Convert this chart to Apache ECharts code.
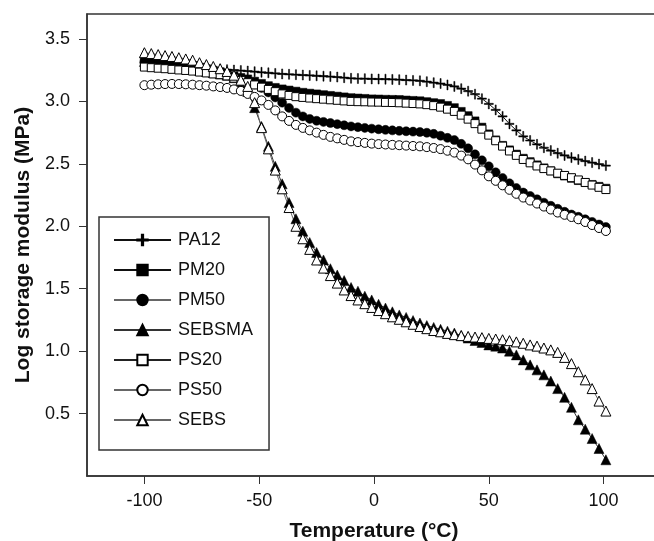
<!DOCTYPE html>
<html>
<head>
<meta charset="utf-8">
<script src="https://cdn.jsdelivr.net/npm/echarts@6/dist/echarts.min.js"></script>
<style>
  html, body { margin: 0; padding: 0; background: #fff; }
  #chart { width: 654px; height: 541px; }
</style>
</head>
<body>
<div id="chart"></div>
<script>
// temperature points (°C), one every 3 degrees
var temps = [-100, -97, -94, -91, -88, -85, -82, -79, -76, -73, -70, -67, -64, -61,
    -58, -55, -52, -49, -46, -43, -40, -37, -34, -31, -28, -25, -22, -19, -16, -13, -10, -7, -4, -1,
    2, 5, 8, 11, 14, 17, 20, 23, 26, 29, 32, 35, 38, 41, 44, 47, 50, 53, 56, 59, 62, 65, 68, 71, 74, 77, 80, 83, 86, 89, 92, 95, 98, 101];

var pa12 = [3.31, 3.30, 3.30, 3.29, 3.29, 3.285, 3.28, 3.28, 3.27, 3.265, 3.26, 3.257, 3.254, 3.251,
    3.247, 3.243, 3.238, 3.233, 3.229, 3.224, 3.22, 3.217, 3.214, 3.211, 3.208, 3.205, 3.202, 3.199, 3.195, 3.19, 3.185, 3.183, 3.182, 3.18,
    3.179, 3.178, 3.176, 3.174, 3.171, 3.168, 3.165, 3.158, 3.15, 3.143, 3.132, 3.12, 3.102, 3.082, 3.058, 3.022, 2.98, 2.932, 2.88, 2.82,
    2.768, 2.72, 2.687, 2.656, 2.629, 2.606, 2.585, 2.567, 2.55, 2.535, 2.522, 2.51, 2.498, 2.486];

var pm20 = [3.33, 3.324, 3.318, 3.312, 3.306, 3.30, 3.294, 3.286, 3.274, 3.262, 3.25, 3.238, 3.224, 3.206,
    3.192, 3.18, 3.162, 3.144, 3.126, 3.112, 3.10, 3.091, 3.082, 3.073, 3.066, 3.06, 3.054, 3.048, 3.042, 3.036, 3.03, 3.027, 3.024, 3.02,
    3.019, 3.017, 3.016, 3.015, 3.011, 3.008, 3.005, 2.998, 2.99, 2.983, 2.968, 2.95, 2.92, 2.886, 2.844, 2.794, 2.74, 2.692, 2.648, 2.612,
    2.578, 2.545, 2.518, 2.492, 2.468, 2.444, 2.42, 2.402, 2.384, 2.366, 2.35, 2.335, 2.32, 2.305];

var pm50 = [3.32, 3.314, 3.308, 3.302, 3.294, 3.285, 3.276, 3.267, 3.258, 3.249, 3.24, 3.228, 3.214, 3.196,
    3.178, 3.16, 3.136, 3.108, 3.072, 3.032, 2.99, 2.948, 2.91, 2.88, 2.86, 2.845, 2.836, 2.827, 2.818, 2.809, 2.80, 2.794, 2.788, 2.782,
    2.777, 2.772, 2.768, 2.764, 2.761, 2.758, 2.755, 2.749, 2.74, 2.725, 2.708, 2.69, 2.66, 2.624, 2.576, 2.528, 2.48, 2.432, 2.386, 2.344,
    2.306, 2.27, 2.243, 2.216, 2.189, 2.164, 2.14, 2.116, 2.094, 2.076, 2.056, 2.035, 2.014, 1.994];

var sebsma = [3.32, 3.315, 3.31, 3.30, 3.29, 3.28, 3.27, 3.26, 3.25, 3.24, 3.23, 3.22, 3.21, 3.19,
    3.15, 3.08, 2.95, 2.80, 2.64, 2.48, 2.34, 2.19, 2.06, 1.96, 1.87, 1.79, 1.73, 1.66, 1.61, 1.565, 1.51, 1.48, 1.44, 1.41,
    1.375, 1.345, 1.315, 1.29, 1.27, 1.245, 1.225, 1.205, 1.19, 1.175, 1.16, 1.145, 1.125, 1.105, 1.085, 1.07, 1.05, 1.04, 1.025, 1.0,
    0.97, 0.93, 0.89, 0.85, 0.81, 0.76, 0.70, 0.63, 0.55, 0.45, 0.375, 0.30, 0.22, 0.13];

var ps20 = [3.275, 3.27, 3.266, 3.262, 3.257, 3.252, 3.248, 3.243, 3.235, 3.228, 3.22, 3.214, 3.204, 3.186,
    3.168, 3.15, 3.132, 3.114, 3.096, 3.078, 3.06, 3.048, 3.038, 3.032, 3.027, 3.022, 3.018, 3.013, 3.009, 3.004, 3.0, 2.998, 2.997, 2.995,
    2.994, 2.992, 2.991, 2.989, 2.986, 2.983, 2.98, 2.974, 2.966, 2.954, 2.938, 2.92, 2.89, 2.858, 2.822, 2.778, 2.73, 2.685, 2.642, 2.603,
    2.568, 2.535, 2.508, 2.483, 2.462, 2.443, 2.425, 2.407, 2.389, 2.371, 2.351, 2.33, 2.312, 2.294];

var ps50 = [3.13, 3.134, 3.137, 3.139, 3.14, 3.139, 3.137, 3.134, 3.13, 3.126, 3.12, 3.115, 3.108, 3.096,
    3.084, 3.06, 3.036, 3.008, 2.972, 2.928, 2.88, 2.844, 2.812, 2.788, 2.768, 2.75, 2.732, 2.716, 2.704, 2.692, 2.68, 2.674, 2.668, 2.662,
    2.658, 2.655, 2.652, 2.649, 2.646, 2.643, 2.64, 2.634, 2.627, 2.618, 2.605, 2.59, 2.566, 2.536, 2.494, 2.448, 2.40, 2.364, 2.328, 2.292,
    2.26, 2.23, 2.206, 2.182, 2.158, 2.134, 2.11, 2.092, 2.074, 2.056, 2.034, 2.01, 1.986, 1.962];

var sebs = [3.39, 3.383, 3.375, 3.367, 3.36, 3.35, 3.34, 3.33, 3.31, 3.295, 3.28, 3.262, 3.24, 3.21,
    3.17, 3.12, 2.99, 2.79, 2.62, 2.45, 2.30, 2.15, 2.0, 1.9, 1.815, 1.73, 1.665, 1.605, 1.545, 1.49, 1.445, 1.41, 1.38, 1.35,
    1.325, 1.30, 1.275, 1.255, 1.235, 1.215, 1.197, 1.18, 1.165, 1.155, 1.142, 1.132, 1.124, 1.118, 1.113, 1.108, 1.102, 1.097, 1.091, 1.084,
    1.074, 1.063, 1.05, 1.04, 1.025, 1.01, 0.99, 0.95, 0.90, 0.835, 0.77, 0.70, 0.60, 0.52];

var xTicks = [-100, -50, 0, 50, 100];
var yTicks = [0.5, 1.0, 1.5, 2.0, 2.5, 3.0, 3.5];

var font = "'Liberation Sans', Arial, sans-serif";
var plus = 'path://M4.4,0H5.6V4.4H10V5.6H5.6V10H4.4V5.6H0V4.4H4.4Z';

function pairs(arr) {
    return temps.map(function (t, i) { return [t, arr[i]]; });
}

// one entry per curve, same order as the legend
function mkSeries(name, arr, symbol, size, filled, lineColor) {
    return {
        name: name,
        type: 'line',
        data: pairs(arr),
        symbol: symbol,
        symbolSize: size,
        showSymbol: true,
        lineStyle: { color: lineColor, width: 1 },
        itemStyle: filled
            ? { color: '#000', borderColor: '#000', borderWidth: 0.5 }
            : { color: '#fff', borderColor: '#000', borderWidth: 1 }
    };
}

var chart = echarts.init(document.getElementById('chart'));

var option = {
    animation: false,
    backgroundColor: '#fff',
    textStyle: { fontFamily: font },
    grid: {
        left: 87, right: -7, top: 14, bottom: 65,
        outerBoundsMode: 'none',
        containLabel: false,
        show: true, borderColor: '#333', borderWidth: 1.5
    },
    legend: {
        left: 99, top: 217,
        orient: 'vertical',
        itemWidth: 57, itemHeight: 13,
        itemGap: 12,
        padding: [14, 16, 21, 14],
        borderColor: '#333', borderWidth: 1.5,
        textStyle: { fontSize: 18, color: '#111', fontFamily: font, lineHeight: 18, padding: [0, 0, 0, 2] },
        data: ['PA12', 'PM20', 'PM50', 'SEBSMA', 'PS20', 'PS50', 'SEBS']
    },
    xAxis: {
        type: 'value',
        min: -125, max: 125,
        name: 'Temperature (°C)',
        nameLocation: 'middle',
        nameGap: 45,
        nameTextStyle: { fontSize: 21, fontWeight: 'bold', color: '#111', fontFamily: font },
        splitLine: { show: false },
        axisLine: { onZero: false, lineStyle: { color: '#333', width: 1.5 } },
        axisTick: { length: 8, customValues: xTicks, lineStyle: { color: '#333' } },
        axisLabel: { customValues: xTicks, fontSize: 18, color: '#111', margin: 16 }
    },
    yAxis: {
        type: 'value',
        min: 0, max: 3.7,
        name: 'Log storage modulus (MPa)',
        nameLocation: 'middle',
        nameGap: 53,
        nameTextStyle: { fontSize: 21, fontWeight: 'bold', color: '#111', fontFamily: font },
        splitLine: { show: false },
        axisLine: { show: true, onZero: false, lineStyle: { color: '#333', width: 1.5 } },
        axisTick: { show: true, length: 8, customValues: yTicks, lineStyle: { color: '#333' } },
        axisLabel: {
            customValues: yTicks, fontSize: 18, color: '#111', margin: 17,
            formatter: function (v) { return v.toFixed(1); }
        }
    },
    series: [
        mkSeries('PA12', pa12, plus, [9, 10], true, '#111'),
        mkSeries('PM20', pm20, 'rect', 8, true, '#111'),
        mkSeries('PM50', pm50, 'circle', 9, true, '#666'),
        mkSeries('SEBSMA', sebsma, 'triangle', 10, true, '#333'),
        mkSeries('PS20', ps20, 'rect', 8, false, '#222'),
        mkSeries('PS50', ps50, 'circle', 9, false, '#666'),
        mkSeries('SEBS', sebs, 'triangle', 10, false, '#666')
    ]
};

chart.setOption(option);
</script>
</body>
</html>
